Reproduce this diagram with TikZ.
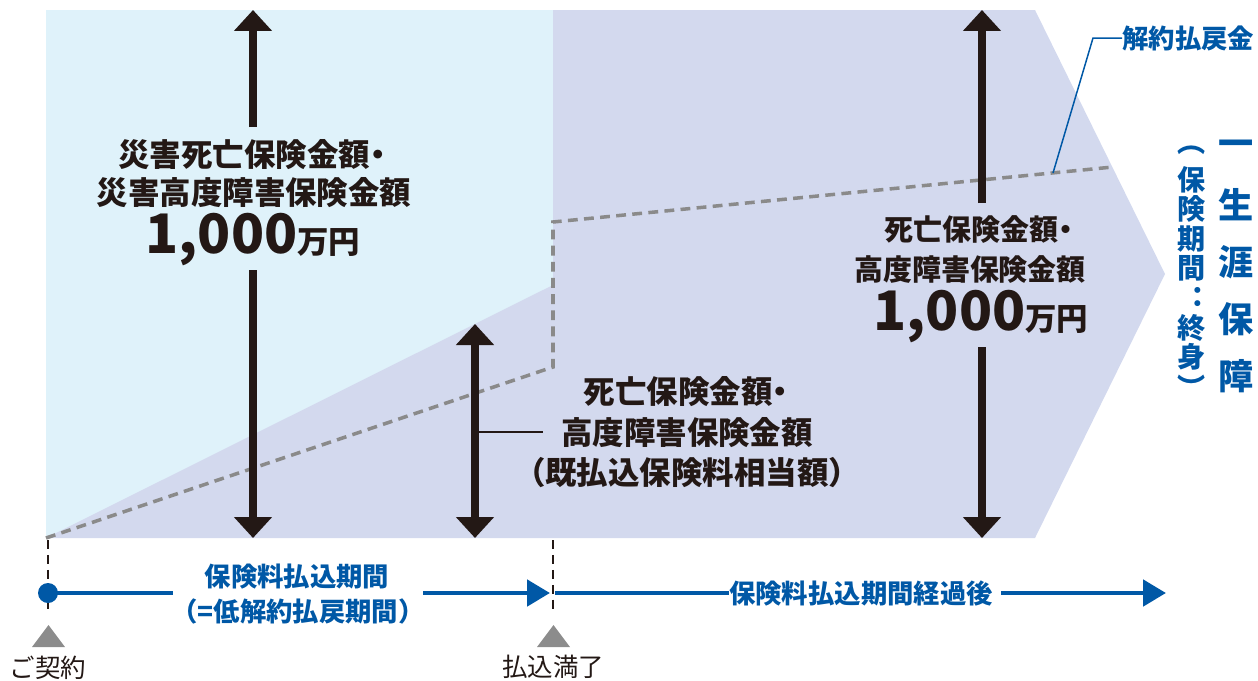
\documentclass[tikz,border=0pt]{standalone}
\usepackage{fontspec}
\newfontfamily\jp{Noto Sans CJK JP}
\usetikzlibrary{arrows.meta}
\definecolor{skyfill}{HTML}{DFF2FA}
\definecolor{lavfill}{HTML}{D3D9EE}
\definecolor{ink}{HTML}{231815}
\definecolor{jblue}{HTML}{0058A6}
\definecolor{dashgray}{HTML}{8A8A8A}
\definecolor{markgray}{HTML}{8C8C8C}
\tikzset{
  bigtip/.tip={Triangle[width=0.74cm,length=0.42cm]},
  bluetip/.tip={Triangle[width=0.52cm,length=0.46cm]},
  sumarrow/.style={line width=4pt, draw=ink, -bigtip},
  sumtxt/.style={font={\jp\bfseries\fontsize{17.9}{20}\selectfont}, text=ink, inner sep=0pt},
  sumtxtr/.style={font={\jp\bfseries\fontsize{16.5}{19}\selectfont}, text=ink, inner sep=0pt},
  bluetxt/.style={font={\jp\bfseries\fontsize{15}{17}\selectfont}, text=jblue, inner sep=0pt},
  marktxt/.style={font={\jp\fontsize{14.5}{16}\selectfont}, text=ink, inner sep=0pt},
  timeline/.style={line width=2.8pt, draw=jblue},
  tickline/.style={line width=1.5pt, draw=ink, dash pattern=on 5pt off 3.5pt},
  svline/.style={line width=2pt, draw=dashgray, dash pattern=on 5.6pt off 3.6pt}
}
\newcommand{\bignum}[1]{{\fontsize{31}{31}\selectfont #1}}
\newcommand{\ndot}{\kern-0.25em・\kern-0.25em}

\begin{document}
\begin{tikzpicture}[x=0.02cm,y=-0.02cm]
			%%%%% START %%%%%
			\useasboundingbox (0,0) rectangle (1258,680);
			
			% areas
			\fill[skyfill] (46,10) rectangle (553,538);
			\fill[lavfill] (46,538) -- (553,285) -- (553,10) -- (1035,10) -- (1165,274) -- (1035,538) -- cycle;
			
			% surrender value
			\draw[svline] (46,538) -- (553,367) -- (553,222) -- (1113,167);
			\coordinate (svpt) at (1053,173);
			\node[bluetxt, anchor=west] (svlbl) at (1122,38) {解約払戻金};
			\draw[jblue, line width=0.85pt] (svpt) -- (1093,38) -- (svlbl.west);
			
			% accident amount
			\node[sumtxt] (lt1) at (252,155) {災害死亡保険金額\ndot};
			\node[sumtxt] (lt2) at (254,193) {災害高度障害保険金額};
			\node[sumtxt] (lt3) at (253,240) {\bignum{1,000}万円};
			\coordinate (la1) at (253,127);
			\coordinate (la2) at (253,10);
			\coordinate (la3) at (253,270);
			\coordinate (la4) at (253,538);
			\draw[sumarrow] (la1) -- (la2);
			\draw[sumarrow] (la3) -- (la4);
			
			% paid premium amount
			\coordinate (ma1) at (475,324);
			\coordinate (ma2) at (475,538);
			\coordinate (ma3) at (475,432);
			\draw[sumarrow, bigtip-bigtip] (ma1) -- (ma2);
			\node[sumtxt] (mt1) at (686,392) {死亡保険金額\ndot};
			\node[sumtxt] (mt2) at (687,433) {高度障害保険金額};
			\node[sumtxt] (mt3) at (687,473) {（既払込保険料相当額）};
			\draw[ink, line width=0.9pt] (ma3) -- (543,432);
			
			% death amount
			\node[sumtxtr] (rt1) at (979,230) {死亡保険金額\ndot};
			\node[sumtxtr] (rt2) at (970,270) {高度障害保険金額};
			\node[sumtxt] (rt3) at (981,317) {\bignum{1,000}万円};
			\coordinate (ra1) at (982,203);
			\coordinate (ra2) at (982,10);
			\coordinate (ra3) at (982,347);
			\coordinate (ra4) at (982,538);
			\draw[sumarrow] (ra1) -- (ra2);
			\draw[sumarrow] (ra3) -- (ra4);
			
			% lifetime
			\foreach \c [count=\i from 0] in {一,生,涯,保,障}
				\node[font={\jp\bfseries\fontsize{20}{22}\selectfont}, text=jblue, inner sep=0pt] (life\i) at (1236,148+57*\i) {\c};
			\foreach \c [count=\i from 0] in {︵,保,険,期,間,︓,終,身,︶}
				\node[font={\jp\bfseries\fontsize{16}{18}\selectfont}, text=jblue, inner sep=0pt] (term\i) at (1192,150+29.6*\i) {\c};
			
			% time line
			\draw[tickline] (48,540) -- (48,613);
			\draw[tickline] (553,540) -- (553,613);
			\fill[jblue] (48,593) circle (10);
			\coordinate (start) at (48,593);
			\coordinate (paid) at (550,593);
			\coordinate (after) at (555,593);
			\coordinate (fin) at (1166,593);
			\node[bluetxt] (pp1) at (297,577) {保険料払込期間};
			\node[bluetxt] (pp2) at (298,611) {（=低解約払戻期間）};
			\node[bluetxt] (pa) at (861,593) {保険料払込期間経過後};
			\draw[timeline] (start) -- (173,593);
			\draw[timeline, -bluetip] (423,593) -- (paid);
			\draw[timeline] (after) -- (pa.west) ++(-8,0);
			\draw[timeline, -bluetip] (pa.east) ++(8,0) -- (fin);
			
			% markers
			\fill[markgray] (32,647) -- (65,647) -- (48.5,625) -- cycle;
			\fill[markgray] (537,647) -- (570,647) -- (553.5,625) -- cycle;
			\node[marktxt] (mk1) at (48,668) {ご契約};
			\node[marktxt] (mk2) at (553,667) {払込満了};
			
			%%%%% END %%%%%
\end{tikzpicture}
\end{document}
